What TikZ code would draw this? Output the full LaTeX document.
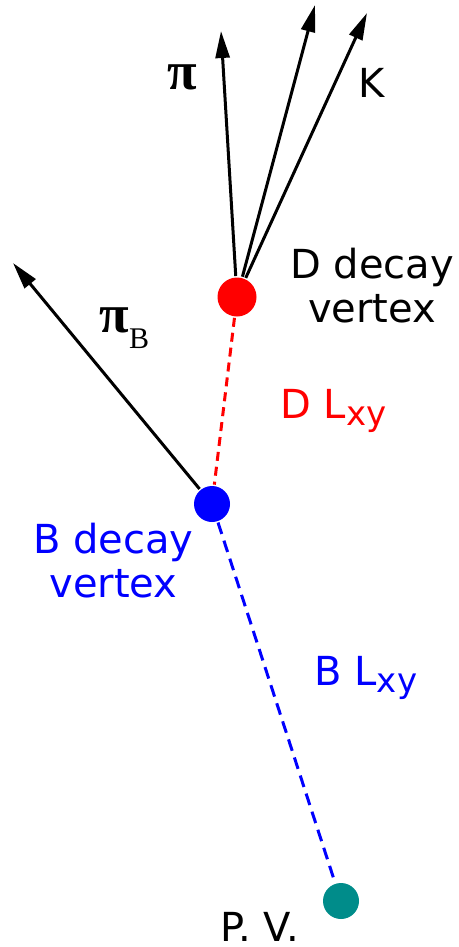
\documentclass[tikz,border=0pt]{standalone}
\usepackage{fontspec}
\setmainfont{DejaVu Sans}
\newfontfamily\grkfont{Liberation Serif}
\usetikzlibrary{arrows.meta}
\definecolor{pvteal}{RGB}{0,140,138}
\begin{document}
\begin{tikzpicture}[x=1pt, y=-1pt, line width=3pt,
	vtx/.style={circle, inner sep=0pt, minimum size=36pt},
	trk/.style={-{Triangle[length=27pt, width=14pt]}},
	every node/.style={inner sep=0pt, font=\fontsize{40}{44}\selectfont}]
	\useasboundingbox (0,0) rectangle (458,947);
	% vertices
	\node[vtx, minimum size=39pt, fill=red] (dv) at (237,297) {};
	\node[vtx, fill=blue] (bv) at (212,504) {};
	\node[vtx, fill=pvteal] (pv) at (341,901) {};
	% track ends
	\coordinate (pitip) at (221,31);
	\coordinate (midtip) at (315,5);
	\coordinate (ktip) at (367,13);
	\coordinate (pibtip) at (13,263);
	\draw[trk] (dv) -- (pitip);
	\draw[trk] (dv) -- (midtip);
	\draw[trk] (dv) -- (ktip);
	\draw[trk] (bv) -- (pibtip);
	% flight paths
	\draw[red, dash pattern=on 9pt off 6pt] (dv) -- (bv);
	\draw[blue, dash pattern=on 12pt off 7pt] (bv) -- (pv);
	% labels
	\node[anchor=base west] (pilab) at (166,90) {\grkfont\bfseries\fontsize{54}{54}\selectfont π};
	\node[anchor=base west] (klab) at (357,98) {K};
	\node[anchor=base west] (piblab) at (98,332) {\grkfont\fontsize{54}{54}\selectfont\bfseries π\mdseries\raisebox{-16pt}{\fontsize{30}{30}\selectfont B}};
	\node[anchor=base, align=center] (dlab) at (372,322) {D decay\\vertex};
	\node[anchor=base, align=center, blue] (blab) at (113.5,597) {B decay\\vertex};
	\node[anchor=base west, red] (dlxy) at (279,418) {D L\raisebox{-7pt}{\fontsize{34}{34}\selectfont xy}};
	\node[anchor=base west, blue] (blxy) at (313,685) {B L\raisebox{-7pt}{\fontsize{34}{34}\selectfont xy}};
	\node[anchor=base west] (pvlab) at (219,941) {P. V.};
\end{tikzpicture}
\end{document}
